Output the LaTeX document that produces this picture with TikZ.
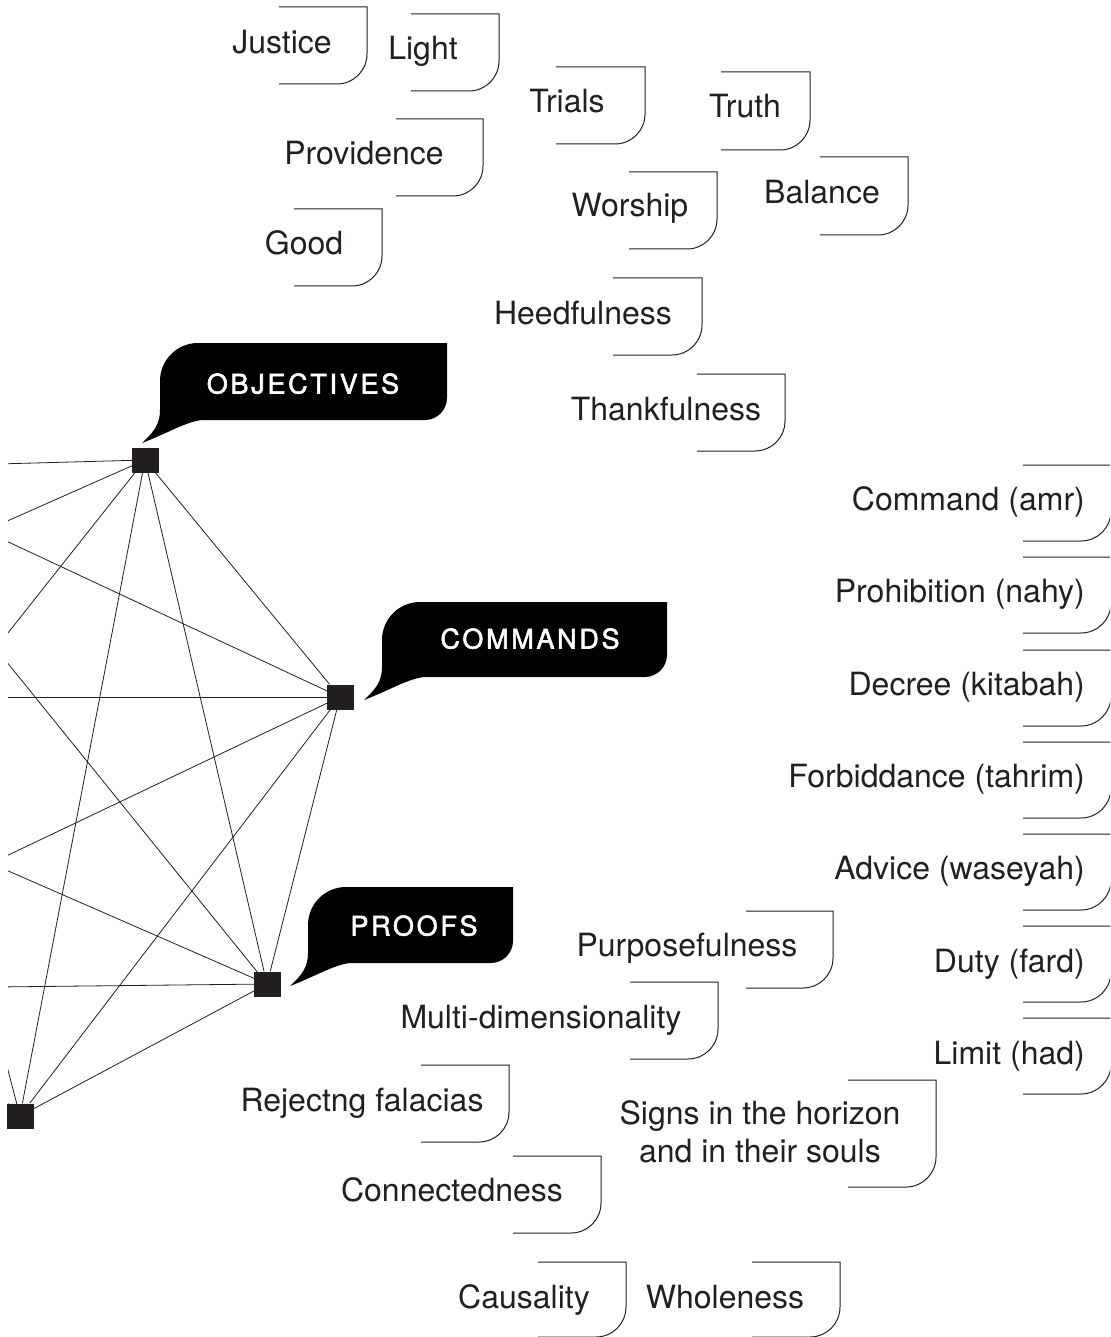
\documentclass[tikz,border=0pt]{standalone}
\usepackage{fontspec}
\setmainfont{TeX Gyre Heros}
\definecolor{ink}{HTML}{231F20}
\pgfdeclarelayer{background}
\pgfsetlayers{background,main}

% open frame beside a term: top rule, right side, rounded lower corner, bottom rule
\newcommand\tagframe[4]{% left, right, top, bottom
  \draw[frame] ({#1},{#3}) -- ({#2},{#3}) -- ({#2},{#4-30})
    .. controls ({#2},{#4-13.4}) and ({#2-13.4},{#4}) .. ({#2-30},{#4})
    -- ({#1},{#4});}

% black speech bubble with its tail at the lower left
\newcommand\speechshape[4]{% left, top, right, bottom
  \fill[bubble] ({#1-18},{#4+23})
    .. controls ({#1-6},{#4+12}) and ({#1},{#4+4}) .. ({#1},{#4-10})
    -- ({#1},{#2+38})
    .. controls ({#1},{#2+17}) and ({#1+17},{#2}) .. ({#1+38},{#2})
    -- ({#3},{#2})
    -- ({#3},{#4-22})
    .. controls ({#3},{#4-10}) and ({#3-10},{#4}) .. ({#3-22},{#4})
    -- ({#1+42},{#4})
    .. controls ({#1+25},{#4+2}) and ({#1+6},{#4+14}) .. ({#1-18},{#4+23})
    -- cycle;}

\begin{document}
\begin{tikzpicture}[x=1pt,y=-1pt,
  hub/.style={fill=ink, draw=none, minimum width=27pt, minimum height=25pt, inner sep=0pt},
  edge/.style={draw=ink, line width=0.8pt},
  frame/.style={draw=ink, line width=1pt},
  term/.style={text=ink, font=\fontsize{32}{38}\selectfont, inner sep=0pt},
  bubble/.style={fill=black},
  caption/.style={text=white, inner sep=0pt,
    font=\fontsize{27}{31}\selectfont\addfontfeatures{LetterSpace=10,FakeBold=2}}]

\useasboundingbox (0,0) rectangle (1110,1337);
\clip (0,0) rectangle (1110,1337);

% ---- network of seven hubs (three lie beyond the left margin) ----
\node[hub] (obj) at (145,460) {};
\node[hub] (cmd) at (340,697) {};
\node[hub] (prf) at (267,984) {};
\node[hub] (low) at (20,1116) {};
\coordinate (h1) at (-150,468);
\coordinate (h2) at (-390,697);
\coordinate (h3) at (-275,990);

\begin{pgfonlayer}{background}
\begin{scope}
  \clip (8,0) rectangle (1110,1337);
  \foreach \a/\b in {obj/cmd, obj/prf, obj/low, cmd/prf, cmd/low, prf/low,
                     obj/h1, obj/h2, obj/h3, cmd/h1, cmd/h2, cmd/h3,
                     prf/h1, prf/h2, prf/h3, low/h1, low/h2, low/h3}
    \draw[edge] (\a.center) -- (\b);
\end{scope}
\end{pgfonlayer}

% ---- speech bubbles ----
\speechshape{160}{343}{447}{420}
\node[caption, anchor=base] (objcap) at (303,393.5) {OBJECTIVES};
\speechshape{382}{602}{667}{677}
\node[caption, anchor=base] (cmdcap) at (530,648.5) {COMMANDS};
\speechshape{308}{887}{513}{963}
\node[caption, anchor=base] (prfcap) at (414,935.5) {PROOFS};

% ---- objectives ----
\node[term, anchor=base] (justice) at (282,54) {Justice};
\tagframe{279}{367}{7}{84}
\node[term, anchor=base] (light) at (423,60) {Light};
\tagframe{411}{499}{14}{91}
\node[term, anchor=base] (trials) at (567,113) {Trials};
\tagframe{556}{645}{67}{144}
\node[term, anchor=base] (truth) at (745,118) {Truth};
\tagframe{721}{810}{72}{150}
\node[term, anchor=base] (providence) at (364,165) {Providence};
\tagframe{396}{483}{119}{196}
\node[term, anchor=base] (balance) at (822,204) {Balance};
\tagframe{820}{908}{157}{235}
\node[term, anchor=base] (worship) at (630,217) {Worship};
\tagframe{629}{717}{172}{249}
\node[term, anchor=base] (good) at (304,255) {Good};
\tagframe{294}{382}{209}{286}
\node[term, anchor=base] (heed) at (583,324) {Heedfulness};
\tagframe{613}{702}{278}{355}
\node[term, anchor=base] (thanks) at (666,420) {Thankfulness};
\tagframe{697}{785}{374}{451}

% ---- commands ----
\node[term, anchor=base east] (amr) at (1085,510) {Command (amr)};
\tagframe{1023}{1111}{465}{541}
\node[term, anchor=base east] (nahy) at (1085,602.5) {Prohibition (nahy)};
\tagframe{1023}{1111}{557}{633}
\node[term, anchor=base east] (kitabah) at (1085,695) {Decree (kitabah)};
\tagframe{1023}{1111}{650}{726}
\node[term, anchor=base east] (tahrim) at (1085,787) {Forbiddance (tahrim)};
\tagframe{1023}{1111}{742}{818}
\node[term, anchor=base east] (waseyah) at (1085,879) {Advice (waseyah)};
\tagframe{1023}{1111}{834}{910}
\node[term, anchor=base east] (fard) at (1085,972) {Duty (fard)};
\tagframe{1023}{1111}{926}{1002}
\node[term, anchor=base east] (had) at (1085,1064) {Limit (had)};
\tagframe{1023}{1111}{1018}{1094}

% ---- proofs ----
\node[term, anchor=base] (purpose) at (687,956) {Purposefulness};
\tagframe{746}{833}{911}{988}
\node[term, anchor=base] (multi) at (541,1028) {Multi-dimensionality};
\tagframe{630}{718}{982}{1059}
\node[term, anchor=base] (reject) at (362,1111) {Rejectng falacias};
\tagframe{421}{509}{1065}{1142}
\node[term, align=center, anchor=center] (signs) at (760,1132)
  {Signs in the horizon\\and in their souls};
\tagframe{848}{936}{1080}{1187}
\node[term, anchor=base] (connect) at (452,1201) {Connectedness};
\tagframe{513}{601}{1156}{1233}
\node[term, anchor=base] (cause) at (524,1308) {Causality};
\tagframe{538}{626}{1262}{1337}
\node[term, anchor=base] (whole) at (725,1308) {Wholeness};
\tagframe{752}{840}{1262}{1337}
\end{tikzpicture}
\end{document}
